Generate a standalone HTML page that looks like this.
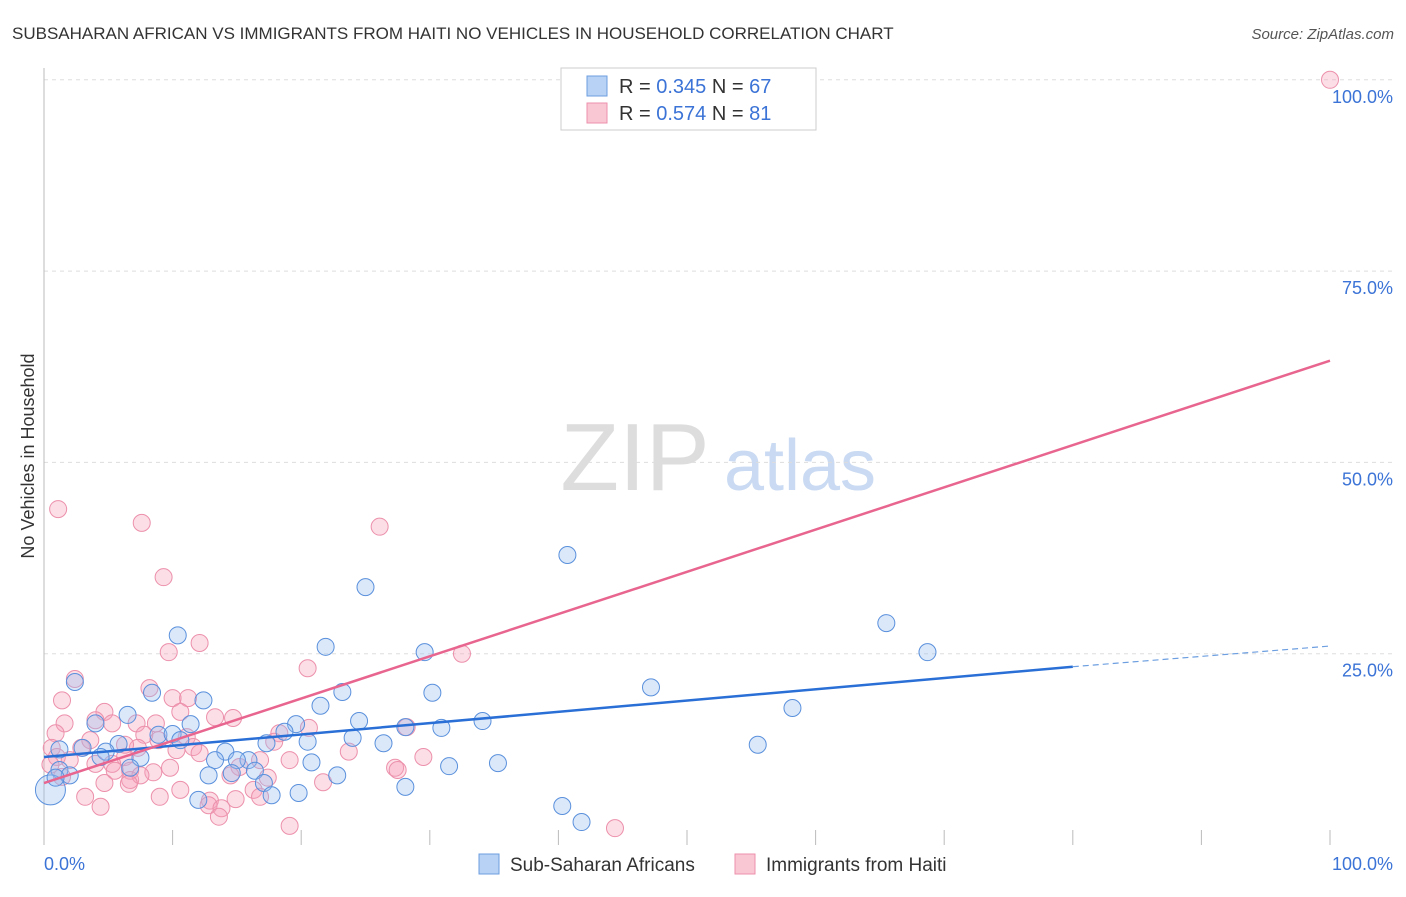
<!DOCTYPE html>
<html><head><meta charset="utf-8"><style>
body{margin:0;background:#fff;font-family:"Liberation Sans",sans-serif;}
svg text{font-family:"Liberation Sans",sans-serif;}
</style></head><body>
<svg id="chart" width="1406" height="892" viewBox="0 0 1406 892" xmlns="http://www.w3.org/2000/svg">
<text x="12" y="39" font-size="17" fill="#333">SUBSAHARAN AFRICAN VS IMMIGRANTS FROM HAITI NO VEHICLES IN HOUSEHOLD CORRELATION CHART</text>
<text x="1394" y="39" font-size="15" fill="#555" font-style="italic" text-anchor="end">Source: ZipAtlas.com</text>
<g>
<text x="635" y="490" font-size="96" fill="#ddd" font-family="Liberation Serif" text-anchor="middle">ZIP</text>
<text x="800" y="490" font-size="72" fill="#c9daf2" text-anchor="middle">atlas</text>
</g>
<g id="grid"></g>
<g id="axes"></g>
<g id="pts"></g>
<g id="lines"></g>
<g>
<rect x="561" y="68" width="255" height="62" fill="#fff" stroke="#ccc"/>
<rect x="587" y="76" width="20" height="20" fill="#b8d2f5" stroke="#6d9fe0"/>
<rect x="587" y="103" width="20" height="20" fill="#f9c6d4" stroke="#ec90ab"/>
<text x="619" y="93" font-size="20" fill="#333">R = <tspan fill="#3b73d6">0.345</tspan>   N = <tspan fill="#3b73d6">67</tspan></text>
<text x="619" y="120" font-size="20" fill="#333">R = <tspan fill="#3b73d6">0.574</tspan>   N = <tspan fill="#3b73d6"> 81</tspan></text>
</g>
<g>
<rect x="479" y="854" width="20" height="20" fill="#b8d2f5" stroke="#6d9fe0"/>
<text x="510" y="871" font-size="19" fill="#333">Sub-Saharan Africans</text>
<rect x="735" y="854" width="20" height="20" fill="#f9c6d4" stroke="#ec90ab"/>
<text x="766" y="871" font-size="19" fill="#333">Immigrants from Haiti</text>
</g>
<text transform="translate(34,456) rotate(-90)" font-size="18" fill="#333" text-anchor="middle">No Vehicles in Household</text>
</svg>
<script>
const blueX=[40.7,25.0,10.4,65.5,68.7,21.9,29.6,2.4,8.4,23.2,30.2,47.2,12.4,21.5,58.2,6.5,4.0,11.4,24.5,19.6,34.1,28.1,30.9,18.7,8.9,10.0,24.0,26.4,20.5,17.3,55.5,3.0,5.8,1.2,4.8,7.5,14.1,15.9,13.3,15.0,20.8,31.5,35.3,6.7,12.8,16.4,14.6,22.8,1.2,2.0,17.1,28.1,12.0,19.8,17.7,40.3,41.8,0.5,0.9,4.4,10.6];
const blueY=[37.9,33.7,27.4,29.0,25.2,25.9,25.2,21.3,19.9,20.0,19.9,20.6,18.9,18.2,17.9,17.0,15.9,15.8,16.2,15.8,16.2,15.4,15.3,14.8,14.4,14.5,14.0,13.3,13.5,13.3,13.1,12.7,13.2,12.5,12.2,11.4,12.2,11.1,11.1,11.1,10.8,10.3,10.7,10.1,9.1,9.7,9.4,9.1,9.8,9.1,8.1,7.6,5.9,6.8,6.5,5.1,3.0,7.2,8.8,11.5,13.7];
const pinkX=[100,1.1,7.6,26.1,9.3,12.1,9.7,32.5,20.5,2.4,8.2,1.4,10.0,11.2,10.6,4.7,13.3,14.7,1.6,4.0,7.2,8.7,5.3,20.6,28.2,18.3,0.9,7.8,8.9,11.1,17.9,11.6,0.6,2.9,7.3,10.3,23.7,1.0,6.3,12.1,29.5,4.0,5.3,9.8,8.5,15.2,5.5,6.7,27.3,27.5,14.5,6.7,7.5,17.4,21.7,4.7,6.6,1.4,9.0,16.3,14.9,12.9,3.2,4.4,12.8,13.8,13.6,16.8,19.1,44.4,3.6,6.3,10.6,0.5,2.0,16.8,19.1];
const pinkY=[100,43.9,42.1,41.6,35.0,26.4,25.2,25.0,23.1,21.7,20.5,18.9,19.2,19.2,17.4,17.4,16.7,16.6,15.9,16.3,15.9,15.9,15.9,15.3,15.4,14.6,14.6,14.4,13.7,14.1,13.5,12.8,12.7,12.7,12.7,12.4,12.2,11.5,11.5,12.0,11.5,10.6,10.6,10.1,9.5,10.2,9.7,9.7,10.1,9.8,9.1,8.5,9.1,8.8,8.2,8.1,8.0,8.9,6.3,7.2,6.0,5.8,6.3,5.0,5.2,4.8,3.7,6.3,2.5,2.2,13.7,13.1,7.2,10.5,11.1,11.1,11.1];
const blueTrend=[[0,11.5],[80,23.3]];
const blueDash=[[80,23.3],[100,26.0]];
const pinkTrend=[[0,8.1],[100,63.3]];
const yTicks=[25,50,75,100];
const yTickLabels=["25.0%","50.0%","75.0%","100.0%"];
const NS="http://www.w3.org/2000/svg";
const X=v=>44+v*12.86, Y=v=>845-v*7.652;
function mk(tag,attrs,parent){const e=document.createElementNS(NS,tag);for(const k in attrs)e.setAttribute(k,attrs[k]);parent.appendChild(e);return e;}
const grid=document.getElementById('grid'),axes=document.getElementById('axes'),pts=document.getElementById('pts'),lines=document.getElementById('lines');
yTicks.forEach((t,i)=>{
 const l=mk('line',{x1:44,x2:1394,y1:Y(t),y2:Y(t),stroke:'#ddd','stroke-dasharray':'4,4'},grid);
 
 
 const tx=mk('text',{x:1393,y:Y(t)+23,'font-size':18,fill:'#3b73d6','text-anchor':'end'},axes);
 tx.textContent=yTickLabels[i];
 
 
});
mk('line',{x1:44,x2:44,y1:68,y2:845,stroke:'#bbb'},axes);
for(let i=1;i<=10;i++){const t=mk('line',{x1:X(i*10),x2:X(i*10),y1:830,y2:845,stroke:'#bbb'},axes);
 
 }
const x0=mk('text',{x:44,y:870,'font-size':18,fill:'#3b73d6'},axes);x0.textContent='0.0%';


const x1=mk('text',{x:1393,y:870,'font-size':18,fill:'#3b73d6','text-anchor':'end'},axes);x1.textContent='100.0%';


pinkX.forEach((v,i)=>{const c=mk('circle',{cx:X(v),cy:Y(pinkY[i]),r:8.5,fill:'rgba(245,160,185,0.35)',stroke:'#ec90ab','stroke-width':1},pts);
 
 });
blueX.forEach((v,i)=>{const c=mk('circle',{cx:X(v),cy:Y(blueY[i]),r:i==57?15:8.5,fill:'rgba(150,190,240,0.35)',stroke:'#5a90dc','stroke-width':1},pts);
 
 });
const lb=mk('line',{x1:X(blueTrend[0][0]),y1:Y(blueTrend[0][1]),x2:X(blueTrend[1][0]),y2:Y(blueTrend[1][1]),stroke:'#2a6fd6','stroke-width':2.5},lines);


const ld=mk('line',{x1:X(blueDash[0][0]),y1:Y(blueDash[0][1]),x2:X(blueDash[1][0]),y2:Y(blueDash[1][1]),stroke:'#6d9fe0','stroke-width':1.2,'stroke-dasharray':'6,4'},lines);


const lp=mk('line',{x1:X(pinkTrend[0][0]),y1:Y(pinkTrend[0][1]),x2:X(pinkTrend[1][0]),y2:Y(pinkTrend[1][1]),stroke:'#e8658f','stroke-width':2.5},lines);


</script>
</body></html>
